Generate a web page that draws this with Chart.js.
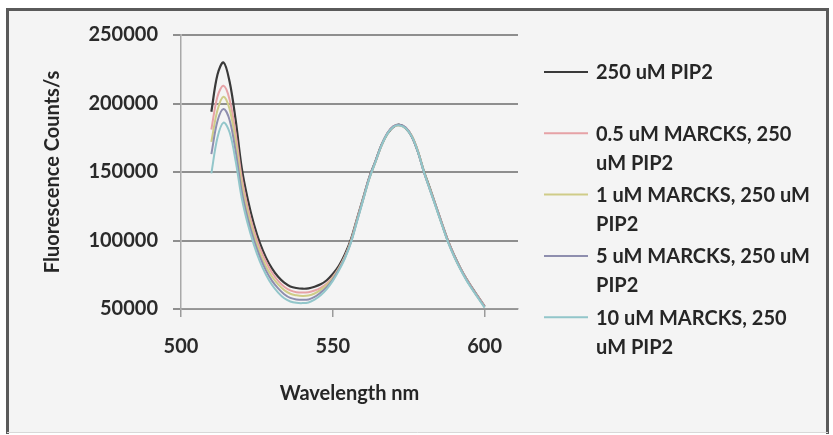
<!DOCTYPE html>
<html>
<head>
<meta charset="utf-8">
<script src="https://cdn.jsdelivr.net/npm/chart.js@4/dist/chart.umd.min.js"></script>
<style>
html,body{margin:0;padding:0;background:#ffffff;}
#wrap{width:833px;height:435px;position:relative;}
</style>
</head>
<body>
<div id="wrap"><canvas id="c" width="833" height="435"></canvas></div>
<script>
// ---- data ----
const wavelengths = [510,512,514,516,518,520,522,524,526,528,530,532,534,536,538,540,542,544,546,548,550,552,554,556,558,560,562,564,566,568,570,572,574,576,578,580,582,584,586,588,590,592,594,596,598,600];
const pip2Only = [194000,221000,230000,216000,188000,153000,130000,112000,98000,87500,79500,73500,69200,66500,65300,64800,65000,66200,68000,71000,75500,81500,90000,101000,116000,131000,146000,157500,169500,178000,183000,184500,182000,176000,165000,150500,138000,125000,112000,99500,89000,80000,72000,65000,58500,52000];
const marcks05 = [181000,205000,213000,203000,178000,146000,124000,107500,94500,84500,76500,70500,66300,63600,62300,62000,62300,63500,65500,68500,73500,80000,88500,100000,115500,130500,145500,157000,169000,178500,183500,184000,182500,176500,165500,150000,137500,125000,112000,99500,89000,80000,72000,65000,58500,52000];
const marcks1 = [172000,195000,205000,196000,172000,141000,120000,104000,91000,81000,73500,68000,63800,61100,60000,59500,59800,61300,64000,67500,72500,79500,88000,99500,115000,130000,145000,157000,169000,178000,183000,184000,182000,176500,165500,150500,137500,124500,111500,99000,88500,79500,71500,64500,58000,51500];
const marcks5 = [163000,187000,196000,188000,165000,136000,116000,100500,88000,78000,70500,65000,60800,58100,57000,56700,57000,58800,62000,66000,71500,79000,87500,99000,114500,130000,145500,157500,169500,178500,183500,184500,182500,176000,165000,150000,137000,124500,111500,99000,88500,79500,71500,64500,58000,51500];
const marcks10 = [149000,175000,186000,179000,158000,131000,112000,97000,84500,75000,67500,62000,57800,55500,54500,54300,54800,56800,60000,64500,70500,78000,87000,98500,114000,129500,145000,157000,169000,178000,183000,184000,182000,176000,165000,150000,137000,124000,111000,98500,88000,79000,71000,64000,57500,51000];

const seriesLabels = [
  ["250 uM PIP2"],
  ["0.5 uM MARCKS, 250", "uM PIP2"],
  ["1 uM MARCKS, 250 uM", "PIP2"],
  ["5 uM MARCKS, 250 uM", "PIP2"],
  ["10 uM MARCKS, 250", "uM PIP2"]
];
const seriesValues = [pip2Only, marcks05, marcks1, marcks5, marcks10];
const seriesColors = ['#3a3a3a', '#e6a2a6', '#cfcc88', '#8e8eae', '#92c6ca'];

const xTickValues = [500, 550, 600];
const yTickValues = [50000, 100000, 150000, 200000, 250000];
const xTitle = 'Wavelength nm';
const yTitle = 'Fluorescence Counts/s';

// ---- chart ----
const FONT = 'Lato, "Liberation Sans", sans-serif';

const datasets = seriesValues.map((vals, i) => ({
  label: seriesLabels[i].join(' '),
  data: wavelengths.map((w, k) => ({x: w, y: vals[k]})),
  borderColor: seriesColors[i],
  backgroundColor: seriesColors[i],
  borderWidth: i === 0 ? 2.2 : 2,
  pointRadius: 0,
  tension: 0.35,
  fill: false,
  order: seriesValues.length - i
}));

const framePlugin = {
  id: 'frame',
  beforeDraw(chart) {
    const ctx = chart.ctx;
    ctx.save();
    ctx.fillStyle = '#ffffff';
    ctx.fillRect(0, 0, chart.width, chart.height);
    ctx.fillStyle = '#f4f4f4';
    ctx.fillRect(7, 9, 821, 424);
    ctx.strokeStyle = '#5a5a5a';
    ctx.lineWidth = 3;
    ctx.beginPath();
    ctx.moveTo(7.5, 434);
    ctx.lineTo(7.5, 9.5);
    ctx.lineTo(827.5, 9.5);
    ctx.lineTo(827.5, 434);
    ctx.stroke();
    ctx.strokeStyle = '#d8d8d8';
    ctx.lineWidth = 1;
    ctx.beginPath();
    ctx.moveTo(7, 432.5);
    ctx.lineTo(828, 432.5);
    ctx.stroke();
    ctx.restore();
  }
};

const legendPlugin = {
  id: 'sideLegend',
  afterDraw(chart) {
    const ctx = chart.ctx;
    ctx.save();
    ctx.font = 'bold 20px ' + FONT;
    ctx.textBaseline = 'middle';
    ctx.textAlign = 'left';
    chart.data.datasets.forEach((ds, i) => {
      const y = 72 + 61.3 * i;
      ctx.strokeStyle = ds.borderColor;
      ctx.lineWidth = 2;
      ctx.beginPath();
      ctx.moveTo(544, y);
      ctx.lineTo(588, y);
      ctx.stroke();
      ctx.fillStyle = '#262626';
      seriesLabels[i].forEach((line, j) => {
        ctx.fillText(line, 596, y + 1 + 29 * j);
      });
    });
    ctx.restore();
  }
};

new Chart(document.getElementById('c'), {
  type: 'line',
  data: { datasets },
  options: {
    responsive: false,
    animation: false,
    devicePixelRatio: 1,
    layout: { padding: { left: 20, right: 315, top: 35, bottom: 0 } },
    plugins: {
      legend: { display: false },
      tooltip: { enabled: false },
      title: { display: false }
    },
    scales: {
      x: {
        type: 'linear',
        min: 500,
        max: 611,
        afterBuildTicks(scale) { scale.ticks = xTickValues.map(v => ({value: v})); },
        afterFit(scale) { scale.height = 435 - 309; },
        grid: { drawOnChartArea: false, drawTicks: true, tickLength: 8, color: '#9a9a9a', lineWidth: 1.5 },
        border: { display: true, color: '#9a9a9a', width: 1.5 },
        ticks: { font: { family: FONT, size: 20, weight: 'bold' }, color: '#2a2a2a', padding: 18, maxRotation: 0 },
        title: { display: true, text: xTitle, font: { family: FONT, size: 20, weight: 'bold' }, color: '#262626', padding: { top: 0, bottom: 29 } }
      },
      y: {
        type: 'linear',
        min: 50000,
        max: 250000,
        afterBuildTicks(scale) { scale.ticks = yTickValues.map(v => ({value: v})); },
        afterFit(scale) { scale.width = 181 - 20; },
        grid: { drawOnChartArea: true, drawTicks: true, tickLength: 8, color: '#8e8e8e', lineWidth: 2 },
        border: { display: true, color: '#a8a8a8', width: 1.5 },
        ticks: { font: { family: FONT, size: 20, weight: 'bold' }, color: '#2a2a2a', padding: 15, callback: v => String(v) },
        title: { display: true, text: yTitle, font: { family: FONT, size: 20, weight: 'bold' }, color: '#262626', padding: { top: 21, bottom: 0 } }
      }
    }
  },
  plugins: [framePlugin, legendPlugin]
});
</script>
</body>
</html>
